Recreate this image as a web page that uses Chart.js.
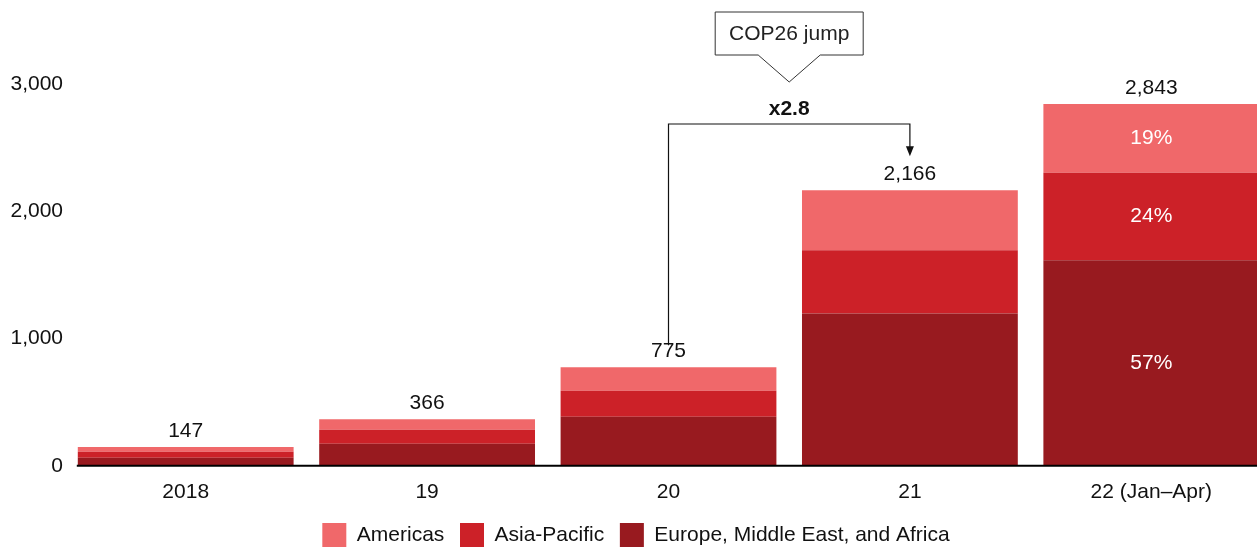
<!DOCTYPE html>
<html>
<head>
<meta charset="utf-8">
<script src="https://cdn.jsdelivr.net/npm/chart.js@4"></script>
<style>
  html, body { margin: 0; padding: 0; background: #fff; overflow: hidden; }
  #wrap { width: 1272px; height: 557px; position: relative; }
</style>
</head>
<body>
<div id="wrap"><canvas id="c"></canvas></div>
<script>
// data
const categories = ['2018', '19', '20', '21', '22 (Jan\u2013Apr)'];
const emea = [63, 173, 386, 1197, 1615];
const asiaPacific = [47, 110, 204, 496, 688];
const americas = [37, 83, 185, 473, 540];
const totals = ['147', '366', '775', '2,166', '2,843'];
// share labels, shown only on the last bar
const pctEmea = ['', '', '', '', '57%'];
const pctAsia = ['', '', '', '', '24%'];
const pctAmericas = ['', '', '', '', '19%'];
const calloutText = 'COP26 jump';
const growthText = 'x2.8';
const growthFrom = 2, growthTo = 3;

const FONT = '"Liberation Sans", Arial, sans-serif';

// totals above bars, % inside segments, baseline, and the COP26 bracket
const overlay = {
  id: 'overlay',
  afterDatasetsDraw(chart) {
    const ctx = chart.ctx;
    const top = chart.getDatasetMeta(2).data;
    const area = chart.chartArea;
    ctx.save();

    // baseline starts at the first bar
    const first = top[0];
    ctx.strokeStyle = '#000';
    ctx.lineWidth = 2;
    ctx.beginPath();
    ctx.moveTo(first.x - first.width / 2 - 1, area.bottom);
    ctx.lineTo(area.right, area.bottom);
    ctx.stroke();

    ctx.font = '21px ' + FONT;
    ctx.fillStyle = '#111';
    ctx.textAlign = 'center';
    ctx.textBaseline = 'middle';
    top.forEach((bar, i) => ctx.fillText(totals[i], bar.x, bar.y - 16));

    const pcts = [pctEmea, pctAsia, pctAmericas];
    ctx.fillStyle = '#fff';
    pcts.forEach((arr, d) => {
      chart.getDatasetMeta(d).data.forEach((bar, i) => {
        if (!arr[i]) return;
        ctx.fillText(arr[i], bar.x, (bar.y + bar.base) / 2);
      });
    });

    // bracket from bar 20 to bar 21
    const a = top[growthFrom], b = top[growthTo];
    const yLine = 124;
    ctx.strokeStyle = '#111';
    ctx.lineWidth = 1.2;
    ctx.beginPath();
    ctx.moveTo(a.x, a.y - 22);
    ctx.lineTo(a.x, yLine);
    ctx.lineTo(b.x, yLine);
    ctx.lineTo(b.x, b.y - 42);
    ctx.stroke();
    ctx.fillStyle = '#111';
    ctx.beginPath();
    ctx.moveTo(b.x - 4, b.y - 44);
    ctx.lineTo(b.x + 4, b.y - 44);
    ctx.lineTo(b.x, b.y - 34);
    ctx.closePath();
    ctx.fill();

    const mid = (a.x + b.x) / 2;
    ctx.font = 'bold 21px ' + FONT;
    ctx.fillText(growthText, mid, 109);

    // callout box with pointer
    const bx = mid - 74, by = 12, bw = 148, bh = 43;
    ctx.lineWidth = 1;
    ctx.strokeStyle = '#333';
    ctx.fillStyle = '#fff';
    ctx.beginPath();
    ctx.moveTo(bx, by);
    ctx.lineTo(bx + bw, by);
    ctx.lineTo(bx + bw, by + bh);
    ctx.lineTo(mid + 31, by + bh);
    ctx.lineTo(mid, 82);
    ctx.lineTo(mid - 31, by + bh);
    ctx.lineTo(bx, by + bh);
    ctx.closePath();
    ctx.fill();
    ctx.stroke();
    ctx.fillStyle = '#222';
    ctx.font = '21px ' + FONT;
    ctx.fillText(calloutText, mid, by + bh / 2 + 1);
    ctx.restore();
  }
};

new Chart(document.getElementById('c'), {
  type: 'bar',
  data: {
    labels: categories,
    datasets: [
      { label: 'Europe, Middle East, and Africa', data: emea, backgroundColor: '#981A1F' },
      { label: 'Asia-Pacific', data: asiaPacific, backgroundColor: '#CC2128' },
      { label: 'Americas', data: americas, backgroundColor: '#F0686A' }
    ]
  },
  options: {
    responsive: true,
    maintainAspectRatio: false,
    animation: false,
    layout: { padding: { top: 84, right: 0, left: 0, bottom: 0 } },
    datasets: { bar: { categoryPercentage: 0.894, barPercentage: 1 } },
    plugins: {
      tooltip: { enabled: false },
      legend: {
        position: 'bottom',
        reverse: true,
        labels: {
          font: { family: FONT, size: 21 },
          color: '#111',
          boxWidth: 24,
          boxHeight: 24,
          padding: 4,
          // small padding keeps the legend low; spaces give the gap between items
          generateLabels(chart) {
            const items = Chart.defaults.plugins.legend.labels.generateLabels(chart);
            items.forEach(it => { if (it.datasetIndex > 0) it.text += '  '; });
            return items;
          }
        }
      }
    },
    scales: {
      x: {
        stacked: true,
        grid: { display: false, drawTicks: false },
        border: { display: false },
        ticks: { font: { family: FONT, size: 21 }, color: '#111', padding: 14 }
      },
      y: {
        stacked: true,
        min: 0,
        max: 3000,
        grid: { display: false, drawTicks: false },
        border: { display: false },
        afterBuildTicks(scale) {
          scale.ticks = [0, 1000, 2000, 3000].map(v => ({ value: v }));
        },
        afterFit(scale) { scale.width = 65; },
        ticks: {
          font: { family: FONT, size: 21 },
          color: '#111',
          padding: 2,
          callback: v => v.toLocaleString('en-US')
        }
      }
    }
  },
  plugins: [overlay]
});
</script>
</body>
</html>
